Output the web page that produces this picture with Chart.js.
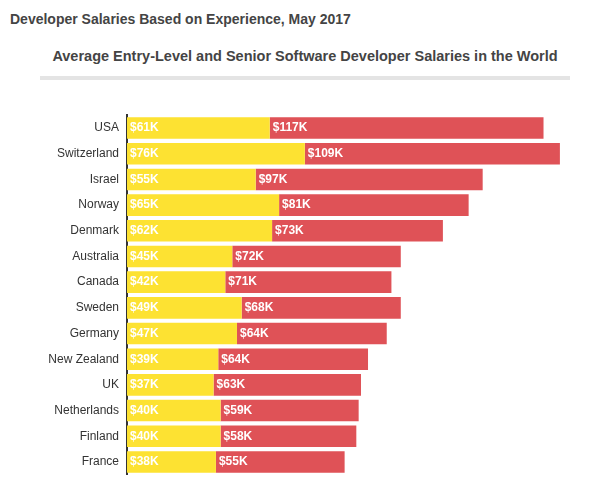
<!DOCTYPE html>
<html>
<head>
<meta charset="utf-8">
<script src="https://cdn.jsdelivr.net/npm/chart.js@4.4.0/dist/chart.umd.min.js"></script>
<style>
  body { margin: 0; background: #fff; font-family: Arial, "Liberation Sans", sans-serif; }
  #wrap { position: relative; width: 610px; height: 490px; }
  #title { position: absolute; left: 10px; top: 11px; font-size: 14px; font-weight: bold; color: #444; }
  #sub { position: absolute; left: 40px; width: 530px; top: 48px; text-align: center; font-size: 14.5px; font-weight: bold; color: #444; }
  #rule { position: absolute; left: 40px; width: 530px; top: 76px; height: 4px; background: #e4e4e4; }
  #box { position: absolute; left: 0; top: 100px; width: 610px; height: 390px; }
</style>
</head>
<body>
<div id="wrap">
  <div id="title">Developer Salaries Based on Experience, May 2017</div>
  <div id="sub">Average Entry-Level and Senior Software Developer Salaries in the World</div>
  <div id="rule"></div>
  <div id="box"><canvas id="chart"></canvas></div>
</div>
<script>
const countries = ['USA', 'Switzerland', 'Israel', 'Norway', 'Denmark', 'Australia', 'Canada', 'Sweden', 'Germany', 'New Zealand', 'UK', 'Netherlands', 'Finland', 'France'];
const entryLevel = [61, 76, 55, 65, 62, 45, 42, 49, 47, 39, 37, 40, 40, 38];
const senior = [117, 109, 97, 81, 73, 72, 71, 68, 64, 64, 63, 59, 58, 55];

// white labels at the start of each bar segment
const segmentLabels = {
  id: 'segmentLabels',
  afterDatasetsDraw(chart) {
    const ctx = chart.ctx;
    ctx.save();
    ctx.fillStyle = '#fff';
    ctx.font = 'bold 12px Arial, "Liberation Sans", sans-serif';
    ctx.textBaseline = 'middle';
    ctx.textAlign = 'left';
    chart.data.datasets.forEach((ds, i) => {
      chart.getDatasetMeta(i).data.forEach((bar, j) => {
        const left = Math.min(bar.x, bar.base);
        ctx.fillText(`$${ds.data[j]}K`, left + 3, bar.y);
      });
    });
    ctx.restore();
  }
};

new Chart(document.getElementById('chart'), {
  type: 'bar',
  data: {
    labels: countries,
    datasets: [
      { label: 'Entry-Level', data: entryLevel, backgroundColor: '#fde232', barPercentage: 0.84, categoryPercentage: 1 },
      { label: 'Senior', data: senior, backgroundColor: '#df5257', barPercentage: 0.84, categoryPercentage: 1 }
    ]
  },
  options: {
    indexAxis: 'y',
    responsive: true,
    maintainAspectRatio: false,
    animation: false,
    layout: { padding: { left: 5, right: 15, top: 12, bottom: 10 } },
    plugins: { legend: { display: false }, tooltip: { enabled: false } },
    scales: {
      x: { stacked: true, min: 0, max: 200, display: false },
      y: {
        stacked: true,
        grid: { display: false, drawTicks: false },
        border: { display: true, color: '#333', width: 2 },
        ticks: { color: '#333', font: { size: 12, family: 'Arial, "Liberation Sans", sans-serif' }, padding: 8 },
        afterFit: (scale) => { scale.width = 122; }
      }
    }
  },
  plugins: [segmentLabels]
});
</script>
</body>
</html>
